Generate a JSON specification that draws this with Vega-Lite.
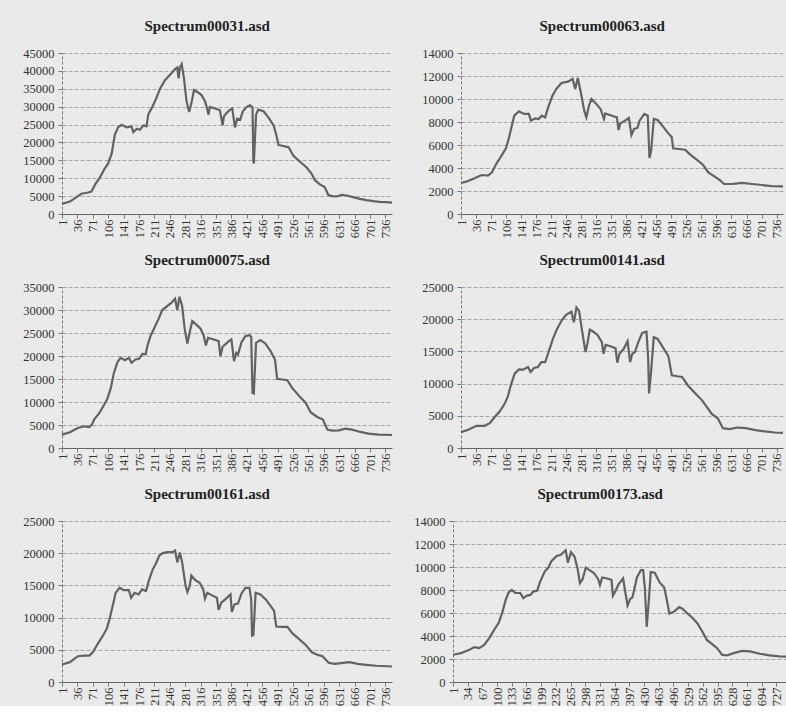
{
"$schema": "https://vega.github.io/schema/vega-lite/v6.json",
"background": "#eaeaea",
"padding": {"left": 18, "top": 19, "right": 0, "bottom": 0},
"data": {"values": [
{"s":"31","i":1,"v":2820},{"s":"31","i":19,"v":3480},{"s":"31","i":34,"v":4700},{"s":"31","i":45,"v":5650},{"s":"31","i":58,"v":5930},{"s":"31","i":68,"v":6300},{"s":"31","i":76,"v":8200},{"s":"31","i":87,"v":10170},{"s":"31","i":98,"v":12700},{"s":"31","i":106,"v":14120},{"s":"31","i":114,"v":16950},{"s":"31","i":121,"v":22120},{"s":"31","i":129,"v":24290},{"s":"31","i":137,"v":24950},{"s":"31","i":148,"v":24200},{"s":"31","i":159,"v":24480},{"s":"31","i":163,"v":22880},{"s":"31","i":171,"v":23820},{"s":"31","i":178,"v":23540},{"s":"31","i":186,"v":24760},{"s":"31","i":193,"v":24480},{"s":"31","i":197,"v":27770},{"s":"31","i":207,"v":30130},{"s":"31","i":215,"v":32290},{"s":"31","i":224,"v":35110},{"s":"31","i":235,"v":37380},{"s":"31","i":246,"v":38880},{"s":"31","i":258,"v":40480},{"s":"31","i":263,"v":40950},{"s":"31","i":266,"v":37940},{"s":"31","i":269,"v":40950},{"s":"31","i":273,"v":41890},{"s":"31","i":278,"v":38130},{"s":"31","i":284,"v":31540},{"s":"31","i":290,"v":28520},{"s":"31","i":296,"v":31540},{"s":"31","i":301,"v":34640},{"s":"31","i":311,"v":33890},{"s":"31","i":318,"v":33230},{"s":"31","i":326,"v":31540},{"s":"31","i":330,"v":29840},{"s":"31","i":334,"v":27770},{"s":"31","i":337,"v":29940},{"s":"31","i":349,"v":29470},{"s":"31","i":360,"v":29000},{"s":"31","i":366,"v":24760},{"s":"31","i":369,"v":27300},{"s":"31","i":375,"v":28240},{"s":"31","i":383,"v":29180},{"s":"31","i":388,"v":29470},{"s":"31","i":394,"v":24200},{"s":"31","i":399,"v":26640},{"s":"31","i":406,"v":26340},{"s":"31","i":412,"v":28710},{"s":"31","i":421,"v":29940},{"s":"31","i":428,"v":30410},{"s":"31","i":434,"v":29840},{"s":"31","i":436,"v":14590},{"s":"31","i":437,"v":14120},{"s":"31","i":442,"v":27770},{"s":"31","i":447,"v":29180},{"s":"31","i":459,"v":28710},{"s":"31","i":470,"v":27010},{"s":"31","i":482,"v":24760},{"s":"31","i":488,"v":22120},{"s":"31","i":493,"v":19300},{"s":"31","i":504,"v":19000},{"s":"31","i":516,"v":18640},{"s":"31","i":527,"v":16290},{"s":"31","i":542,"v":14590},{"s":"31","i":557,"v":12990},{"s":"31","i":568,"v":11300},{"s":"31","i":576,"v":9410},{"s":"31","i":587,"v":8280},{"s":"31","i":598,"v":7530},{"s":"31","i":606,"v":5370},{"s":"31","i":614,"v":4990},{"s":"31","i":625,"v":4900},{"s":"31","i":637,"v":5370},{"s":"31","i":648,"v":5180},{"s":"31","i":663,"v":4710},{"s":"31","i":678,"v":4240},{"s":"31","i":693,"v":3860},{"s":"31","i":708,"v":3580},{"s":"31","i":723,"v":3390},{"s":"31","i":738,"v":3300},{"s":"31","i":751,"v":3200},
{"s":"63","i":1,"v":2700},{"s":"63","i":15,"v":2840},{"s":"63","i":34,"v":3130},{"s":"63","i":49,"v":3390},{"s":"63","i":64,"v":3330},{"s":"63","i":73,"v":3620},{"s":"63","i":83,"v":4350},{"s":"63","i":94,"v":4990},{"s":"63","i":106,"v":5740},{"s":"63","i":113,"v":6670},{"s":"63","i":125,"v":8550},{"s":"63","i":136,"v":8930},{"s":"63","i":148,"v":8700},{"s":"63","i":159,"v":8700},{"s":"63","i":164,"v":8120},{"s":"63","i":174,"v":8320},{"s":"63","i":182,"v":8260},{"s":"63","i":189,"v":8550},{"s":"63","i":197,"v":8400},{"s":"63","i":204,"v":9280},{"s":"63","i":214,"v":10290},{"s":"63","i":223,"v":10870},{"s":"63","i":235,"v":11390},{"s":"63","i":250,"v":11510},{"s":"63","i":261,"v":11740},{"s":"63","i":267,"v":10870},{"s":"63","i":273,"v":11830},{"s":"63","i":280,"v":10580},{"s":"63","i":288,"v":8990},{"s":"63","i":293,"v":8400},{"s":"63","i":299,"v":9420},{"s":"63","i":305,"v":10000},{"s":"63","i":315,"v":9620},{"s":"63","i":326,"v":9130},{"s":"63","i":334,"v":8260},{"s":"63","i":337,"v":8750},{"s":"63","i":353,"v":8550},{"s":"63","i":364,"v":8400},{"s":"63","i":368,"v":7300},{"s":"63","i":372,"v":7880},{"s":"63","i":383,"v":8120},{"s":"63","i":392,"v":8350},{"s":"63","i":398,"v":6870},{"s":"63","i":404,"v":7390},{"s":"63","i":412,"v":7480},{"s":"63","i":417,"v":8120},{"s":"63","i":428,"v":8700},{"s":"63","i":436,"v":8550},{"s":"63","i":440,"v":4870},{"s":"63","i":444,"v":5510},{"s":"63","i":450,"v":8260},{"s":"63","i":459,"v":8170},{"s":"63","i":470,"v":7680},{"s":"63","i":482,"v":7100},{"s":"63","i":492,"v":6670},{"s":"63","i":495,"v":5710},{"s":"63","i":508,"v":5650},{"s":"63","i":523,"v":5590},{"s":"63","i":535,"v":5160},{"s":"63","i":550,"v":4720},{"s":"63","i":565,"v":4260},{"s":"63","i":577,"v":3620},{"s":"63","i":592,"v":3250},{"s":"63","i":603,"v":2960},{"s":"63","i":614,"v":2610},{"s":"63","i":633,"v":2610},{"s":"63","i":656,"v":2700},{"s":"63","i":679,"v":2610},{"s":"63","i":702,"v":2520},{"s":"63","i":725,"v":2430},{"s":"63","i":751,"v":2410},
{"s":"75","i":1,"v":2900},{"s":"75","i":19,"v":3410},{"s":"75","i":37,"v":4360},{"s":"75","i":52,"v":4720},{"s":"75","i":63,"v":4570},{"s":"75","i":69,"v":5080},{"s":"75","i":74,"v":6170},{"s":"75","i":86,"v":7620},{"s":"75","i":97,"v":9440},{"s":"75","i":104,"v":10670},{"s":"75","i":112,"v":13070},{"s":"75","i":119,"v":16340},{"s":"75","i":127,"v":18660},{"s":"75","i":134,"v":19610},{"s":"75","i":144,"v":19100},{"s":"75","i":153,"v":19610},{"s":"75","i":159,"v":18520},{"s":"75","i":168,"v":19240},{"s":"75","i":176,"v":19390},{"s":"75","i":184,"v":20480},{"s":"75","i":191,"v":20330},{"s":"75","i":195,"v":22150},{"s":"75","i":202,"v":24330},{"s":"75","i":210,"v":25920},{"s":"75","i":220,"v":27960},{"s":"75","i":229,"v":29990},{"s":"75","i":240,"v":30860},{"s":"75","i":250,"v":31590},{"s":"75","i":258,"v":32460},{"s":"75","i":263,"v":29990},{"s":"75","i":268,"v":32890},{"s":"75","i":274,"v":30860},{"s":"75","i":280,"v":25780},{"s":"75","i":286,"v":22730},{"s":"75","i":291,"v":25050},{"s":"75","i":297,"v":27590},{"s":"75","i":308,"v":26650},{"s":"75","i":316,"v":25920},{"s":"75","i":323,"v":24470},{"s":"75","i":328,"v":22290},{"s":"75","i":333,"v":23960},{"s":"75","i":346,"v":23600},{"s":"75","i":357,"v":23240},{"s":"75","i":361,"v":19970},{"s":"75","i":366,"v":22000},{"s":"75","i":380,"v":23240},{"s":"75","i":386,"v":23600},{"s":"75","i":392,"v":18880},{"s":"75","i":397,"v":20690},{"s":"75","i":401,"v":20330},{"s":"75","i":409,"v":23020},{"s":"75","i":418,"v":24330},{"s":"75","i":427,"v":24540},{"s":"75","i":431,"v":24180},{"s":"75","i":434,"v":11980},{"s":"75","i":437,"v":11840},{"s":"75","i":442,"v":22870},{"s":"75","i":452,"v":23450},{"s":"75","i":463,"v":22730},{"s":"75","i":475,"v":21060},{"s":"75","i":485,"v":19240},{"s":"75","i":490,"v":15030},{"s":"75","i":501,"v":14890},{"s":"75","i":513,"v":14740},{"s":"75","i":524,"v":13070},{"s":"75","i":539,"v":11400},{"s":"75","i":555,"v":9800},{"s":"75","i":566,"v":7770},{"s":"75","i":581,"v":6750},{"s":"75","i":594,"v":6170},{"s":"75","i":604,"v":3990},{"s":"75","i":615,"v":3780},{"s":"75","i":630,"v":3850},{"s":"75","i":645,"v":4210},{"s":"75","i":660,"v":3990},{"s":"75","i":679,"v":3490},{"s":"75","i":698,"v":3120},{"s":"75","i":721,"v":2900},{"s":"75","i":751,"v":2830},
{"s":"141","i":1,"v":2460},{"s":"141","i":18,"v":2820},{"s":"141","i":37,"v":3440},{"s":"141","i":56,"v":3440},{"s":"141","i":68,"v":3850},{"s":"141","i":79,"v":4770},{"s":"141","i":91,"v":5650},{"s":"141","i":102,"v":6780},{"s":"141","i":110,"v":7960},{"s":"141","i":117,"v":9750},{"s":"141","i":126,"v":11550},{"s":"141","i":136,"v":12220},{"s":"141","i":146,"v":12170},{"s":"141","i":157,"v":12580},{"s":"141","i":163,"v":11810},{"s":"141","i":171,"v":12420},{"s":"141","i":180,"v":12580},{"s":"141","i":188,"v":13350},{"s":"141","i":197,"v":13350},{"s":"141","i":205,"v":14890},{"s":"141","i":215,"v":16940},{"s":"141","i":224,"v":18380},{"s":"141","i":235,"v":19760},{"s":"141","i":245,"v":20640},{"s":"141","i":258,"v":21150},{"s":"141","i":264,"v":19510},{"s":"141","i":270,"v":21820},{"s":"141","i":276,"v":21300},{"s":"141","i":283,"v":18220},{"s":"141","i":291,"v":14890},{"s":"141","i":296,"v":16430},{"s":"141","i":301,"v":18380},{"s":"141","i":311,"v":17970},{"s":"141","i":319,"v":17560},{"s":"141","i":329,"v":16430},{"s":"141","i":333,"v":14630},{"s":"141","i":338,"v":16020},{"s":"141","i":349,"v":15810},{"s":"141","i":361,"v":15500},{"s":"141","i":365,"v":13240},{"s":"141","i":370,"v":14630},{"s":"141","i":380,"v":15400},{"s":"141","i":389,"v":16580},{"s":"141","i":395,"v":13350},{"s":"141","i":400,"v":14630},{"s":"141","i":406,"v":14890},{"s":"141","i":414,"v":16430},{"s":"141","i":423,"v":17860},{"s":"141","i":433,"v":18070},{"s":"141","i":437,"v":13860},{"s":"141","i":439,"v":8470},{"s":"141","i":443,"v":11290},{"s":"141","i":450,"v":17200},{"s":"141","i":459,"v":16940},{"s":"141","i":471,"v":15660},{"s":"141","i":484,"v":14270},{"s":"141","i":492,"v":11290},{"s":"141","i":505,"v":11140},{"s":"141","i":516,"v":11040},{"s":"141","i":529,"v":9750},{"s":"141","i":547,"v":8470},{"s":"141","i":562,"v":7440},{"s":"141","i":573,"v":6420},{"s":"141","i":585,"v":5290},{"s":"141","i":599,"v":4620},{"s":"141","i":611,"v":3080},{"s":"141","i":626,"v":2930},{"s":"141","i":645,"v":3180},{"s":"141","i":664,"v":3080},{"s":"141","i":687,"v":2770},{"s":"141","i":709,"v":2570},{"s":"141","i":732,"v":2410},{"s":"141","i":751,"v":2360},
{"s":"161","i":1,"v":2720},{"s":"161","i":19,"v":3080},{"s":"161","i":37,"v":4000},{"s":"161","i":52,"v":4110},{"s":"161","i":63,"v":4110},{"s":"161","i":71,"v":4620},{"s":"161","i":82,"v":5900},{"s":"161","i":94,"v":7190},{"s":"161","i":103,"v":8320},{"s":"161","i":109,"v":9750},{"s":"161","i":117,"v":12060},{"s":"161","i":123,"v":13860},{"s":"161","i":132,"v":14630},{"s":"161","i":141,"v":14270},{"s":"161","i":153,"v":14270},{"s":"161","i":158,"v":13090},{"s":"161","i":166,"v":13860},{"s":"161","i":175,"v":13600},{"s":"161","i":183,"v":14370},{"s":"161","i":192,"v":14120},{"s":"161","i":198,"v":15660},{"s":"161","i":207,"v":17450},{"s":"161","i":215,"v":18480},{"s":"161","i":222,"v":19610},{"s":"161","i":230,"v":20020},{"s":"161","i":241,"v":20170},{"s":"161","i":252,"v":20170},{"s":"161","i":258,"v":20430},{"s":"161","i":263,"v":18580},{"s":"161","i":269,"v":20120},{"s":"161","i":274,"v":18580},{"s":"161","i":282,"v":14890},{"s":"161","i":286,"v":13960},{"s":"161","i":291,"v":14890},{"s":"161","i":295,"v":16530},{"s":"161","i":304,"v":15810},{"s":"161","i":314,"v":15400},{"s":"161","i":322,"v":14370},{"s":"161","i":326,"v":12940},{"s":"161","i":331,"v":13860},{"s":"161","i":342,"v":13450},{"s":"161","i":353,"v":13090},{"s":"161","i":357,"v":11190},{"s":"161","i":363,"v":12320},{"s":"161","i":372,"v":12830},{"s":"161","i":384,"v":13600},{"s":"161","i":387,"v":10880},{"s":"161","i":393,"v":12060},{"s":"161","i":401,"v":12170},{"s":"161","i":409,"v":13760},{"s":"161","i":418,"v":14630},{"s":"161","i":427,"v":14630},{"s":"161","i":431,"v":12830},{"s":"161","i":433,"v":7190},{"s":"161","i":436,"v":7290},{"s":"161","i":441,"v":13860},{"s":"161","i":452,"v":13600},{"s":"161","i":464,"v":12830},{"s":"161","i":475,"v":11810},{"s":"161","i":483,"v":11040},{"s":"161","i":488,"v":8620},{"s":"161","i":500,"v":8570},{"s":"161","i":513,"v":8570},{"s":"161","i":525,"v":7550},{"s":"161","i":540,"v":6670},{"s":"161","i":555,"v":5750},{"s":"161","i":569,"v":4620},{"s":"161","i":582,"v":4210},{"s":"161","i":593,"v":4000},{"s":"161","i":607,"v":2980},{"s":"161","i":620,"v":2820},{"s":"161","i":635,"v":2930},{"s":"161","i":654,"v":3080},{"s":"161","i":673,"v":2820},{"s":"161","i":692,"v":2670},{"s":"161","i":715,"v":2520},{"s":"161","i":751,"v":2410},
{"s":"173","i":1,"v":2370},{"s":"173","i":19,"v":2510},{"s":"173","i":38,"v":2800},{"s":"173","i":49,"v":3030},{"s":"173","i":60,"v":2940},{"s":"173","i":71,"v":3230},{"s":"173","i":82,"v":3800},{"s":"173","i":93,"v":4510},{"s":"173","i":104,"v":5170},{"s":"173","i":112,"v":6090},{"s":"173","i":119,"v":7090},{"s":"173","i":126,"v":7800},{"s":"173","i":133,"v":8000},{"s":"173","i":141,"v":7740},{"s":"173","i":152,"v":7740},{"s":"173","i":159,"v":7290},{"s":"173","i":167,"v":7510},{"s":"173","i":175,"v":7570},{"s":"173","i":181,"v":7860},{"s":"173","i":190,"v":7940},{"s":"173","i":196,"v":8660},{"s":"173","i":207,"v":9600},{"s":"173","i":215,"v":9940},{"s":"173","i":222,"v":10510},{"s":"173","i":233,"v":10940},{"s":"173","i":244,"v":11090},{"s":"173","i":254,"v":11460},{"s":"173","i":259,"v":10370},{"s":"173","i":266,"v":11290},{"s":"173","i":274,"v":10890},{"s":"173","i":281,"v":9800},{"s":"173","i":286,"v":8600},{"s":"173","i":292,"v":8940},{"s":"173","i":299,"v":9940},{"s":"173","i":310,"v":9660},{"s":"173","i":318,"v":9460},{"s":"173","i":327,"v":8940},{"s":"173","i":331,"v":8430},{"s":"173","i":336,"v":9090},{"s":"173","i":347,"v":9000},{"s":"173","i":357,"v":8890},{"s":"173","i":360,"v":7510},{"s":"173","i":366,"v":7940},{"s":"173","i":373,"v":8510},{"s":"173","i":383,"v":9000},{"s":"173","i":388,"v":7800},{"s":"173","i":393,"v":6660},{"s":"173","i":399,"v":7230},{"s":"173","i":404,"v":7370},{"s":"173","i":414,"v":9090},{"s":"173","i":423,"v":9740},{"s":"173","i":428,"v":9740},{"s":"173","i":432,"v":8090},{"s":"173","i":436,"v":4800},{"s":"173","i":441,"v":7230},{"s":"173","i":445,"v":9570},{"s":"173","i":454,"v":9510},{"s":"173","i":465,"v":8660},{"s":"173","i":475,"v":8230},{"s":"173","i":480,"v":7370},{"s":"173","i":487,"v":5940},{"s":"173","i":498,"v":6140},{"s":"173","i":509,"v":6510},{"s":"173","i":516,"v":6370},{"s":"173","i":528,"v":5940},{"s":"173","i":539,"v":5570},{"s":"173","i":550,"v":5090},{"s":"173","i":561,"v":4370},{"s":"173","i":571,"v":3660},{"s":"173","i":583,"v":3290},{"s":"173","i":594,"v":2940},{"s":"173","i":605,"v":2370},{"s":"173","i":616,"v":2310},{"s":"173","i":631,"v":2510},{"s":"173","i":650,"v":2710},{"s":"173","i":668,"v":2660},{"s":"173","i":690,"v":2460},{"s":"173","i":712,"v":2310},{"s":"173","i":734,"v":2230},{"s":"173","i":751,"v":2200}
]},
"config": {
  "font": "Liberation Serif",
  "view": {"stroke": null},
  "axis": {"labelFont": "Liberation Serif", "labelFontSize": 12.5, "labelColor": "#333333", "grid": false, "tickColor": "#777777", "domainColor": "#777777", "tickSize": 4, "title": null},
  "axisY": {"grid": true, "gridColor": "#a4a4a4", "gridDash": [4, 2], "domainDash": [3, 2], "labelPadding": 4, "minExtent": 44, "maxExtent": 44, "format": "d"},
  "axisX": {"labelAngle": -90, "labelPadding": 1, "minExtent": 24, "maxExtent": 24, "domainColor": "#666666", "format": "d"},
  "title": {"font": "Liberation Serif", "fontSize": 15, "fontWeight": "bold", "color": "#222222", "frame": "bounds", "anchor": "middle", "offset": 13},
  "line": {"color": "#626262", "strokeWidth": 2.2}
},
"spacing": 15,
"vconcat": [
 {"spacing": 20, "hconcat": [
  {"title": "Spectrum00031.asd", "width": 330, "height": 161, "transform": [{"filter": "datum.s === '31'"}], "mark": "line",
   "encoding": {"x": {"field": "i", "type": "quantitative", "scale": {"domain": [1, 751], "nice": false, "zero": false}, "axis": {"values": [1,36,71,106,141,176,211,246,281,316,351,386,421,456,491,526,561,596,631,666,701,736]}},
                "y": {"field": "v", "type": "quantitative", "scale": {"domain": [0, 45000], "nice": false}, "axis": {"values": [0,5000,10000,15000,20000,25000,30000,35000,40000,45000]}}}},
  {"title": "Spectrum00063.asd", "width": 322, "height": 161, "transform": [{"filter": "datum.s === '63'"}], "mark": "line",
   "encoding": {"x": {"field": "i", "type": "quantitative", "scale": {"domain": [1, 751], "nice": false, "zero": false}, "axis": {"values": [1,36,71,106,141,176,211,246,281,316,351,386,421,456,491,526,561,596,631,666,701,736]}},
                "y": {"field": "v", "type": "quantitative", "scale": {"domain": [0, 14000], "nice": false}, "axis": {"values": [0,2000,4000,6000,8000,10000,12000,14000]}}}}
 ]},
 {"spacing": 20, "hconcat": [
  {"title": "Spectrum00075.asd", "width": 330, "height": 161, "transform": [{"filter": "datum.s === '75'"}], "mark": "line",
   "encoding": {"x": {"field": "i", "type": "quantitative", "scale": {"domain": [1, 751], "nice": false, "zero": false}, "axis": {"values": [1,36,71,106,141,176,211,246,281,316,351,386,421,456,491,526,561,596,631,666,701,736]}},
                "y": {"field": "v", "type": "quantitative", "scale": {"domain": [0, 35000], "nice": false}, "axis": {"values": [0,5000,10000,15000,20000,25000,30000,35000]}}}},
  {"title": "Spectrum00141.asd", "width": 322, "height": 161, "transform": [{"filter": "datum.s === '141'"}], "mark": "line",
   "encoding": {"x": {"field": "i", "type": "quantitative", "scale": {"domain": [1, 751], "nice": false, "zero": false}, "axis": {"values": [1,36,71,106,141,176,211,246,281,316,351,386,421,456,491,526,561,596,631,666,701,736]}},
                "y": {"field": "v", "type": "quantitative", "scale": {"domain": [0, 25000], "nice": false}, "axis": {"values": [0,5000,10000,15000,20000,25000]}}}}
 ]},
 {"spacing": 12, "hconcat": [
  {"title": "Spectrum00161.asd", "width": 330, "height": 161, "transform": [{"filter": "datum.s === '161'"}], "mark": "line",
   "encoding": {"x": {"field": "i", "type": "quantitative", "scale": {"domain": [1, 751], "nice": false, "zero": false}, "axis": {"values": [1,36,71,106,141,176,211,246,281,316,351,386,421,456,491,526,561,596,631,666,701,736]}},
                "y": {"field": "v", "type": "quantitative", "scale": {"domain": [0, 25000], "nice": false}, "axis": {"values": [0,5000,10000,15000,20000,25000]}}}},
  {"title": "Spectrum00173.asd", "width": 334, "height": 161, "transform": [{"filter": "datum.s === '173'"}], "mark": "line",
   "encoding": {"x": {"field": "i", "type": "quantitative", "scale": {"domain": [1, 751], "nice": false, "zero": false}, "axis": {"values": [1,34,67,100,133,166,199,232,265,298,331,364,397,430,463,496,529,562,595,628,661,694,727]}},
                "y": {"field": "v", "type": "quantitative", "scale": {"domain": [0, 14000], "nice": false}, "axis": {"values": [0,2000,4000,6000,8000,10000,12000,14000]}}}}
 ]}
]
}
